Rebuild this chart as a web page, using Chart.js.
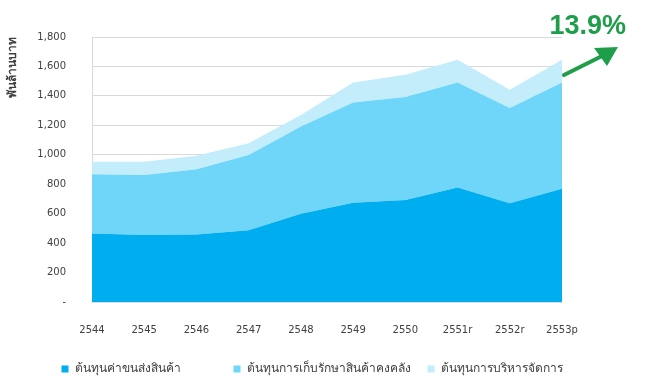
<!DOCTYPE html>
<html>
<head>
<meta charset="utf-8">
<script src="https://cdn.jsdelivr.net/npm/chart.js@4"></script>
<style>
html,body{margin:0;padding:0;background:#fff;}
#wrap{width:654px;height:391px;position:relative;}
</style>
</head>
<body>
<div id="wrap"><canvas id="c"></canvas></div>
<script>
const categories = ['2544','2545','2546','2547','2548','2549','2550','2551r','2552r','2553p'];
const seriesNames = ['ต้นทุนค่าขนส่งสินค้า','ต้นทุนการเก็บรักษาสินค้าคงคลัง','ต้นทุนการบริหารจัดการ'];
const transportCost = [465,455,458,488,600,675,692,778,670,770];
const inventoryCost = [402,408,443,511,592,680,700,713,647,721];
const adminCost = [86,90,93,79,79,136,152,155,124,155];
const yTicks = [0,200,400,600,800,1000,1200,1400,1600,1800];
const yTitle = 'พันล้านบาท';
const growthLabel = '13.9%';

const fontFam = "'DejaVu Sans', 'Liberation Sans', 'Noto Sans', sans-serif";
const legendGap = [4, 1, 3];

const annot = {
  id: 'annot',
  afterDraw(chart) {
    const ctx = chart.ctx;
    ctx.save();
    ctx.fillStyle = '#1E9E4A';
    ctx.font = "bold 27px 'Liberation Sans', Arial, sans-serif";
    ctx.textAlign = 'right';
    ctx.textBaseline = 'alphabetic';
    ctx.fillText(growthLabel, 626, 34);
    ctx.strokeStyle = '#1E9E4A';
    ctx.lineWidth = 4;
    ctx.lineCap = 'round';
    ctx.beginPath();
    ctx.moveTo(564, 75);
    ctx.lineTo(604, 55);
    ctx.stroke();
    ctx.beginPath();
    ctx.moveTo(618, 47);
    ctx.lineTo(594, 48);
    ctx.lineTo(607, 66);
    ctx.closePath();
    ctx.fill();
    ctx.restore();
  }
};

new Chart(document.getElementById('c'), {
  type: 'line',
  data: {
    labels: categories,
    datasets: [
      {label: seriesNames[0], data: transportCost, backgroundColor: '#00AEEF', borderWidth: 0, fill: 'origin', pointRadius: 0, tension: 0},
      {label: seriesNames[1], data: inventoryCost, backgroundColor: '#6FD6FA', borderWidth: 0, fill: '-1', pointRadius: 0, tension: 0},
      {label: seriesNames[2], data: adminCost, backgroundColor: '#C4EDFB', borderWidth: 0, fill: '-1', pointRadius: 0, tension: 0}
    ]
  },
  options: {
    responsive: true,
    maintainAspectRatio: false,
    animation: false,
    layout: {padding: {left: 6, right: 0, top: 37, bottom: 6}},
    plugins: {
      legend: {
        position: 'bottom',
        labels: {
          boxWidth: 7, boxHeight: 7, padding: 5,
          color: '#404040',
          font: {family: fontFam, size: 12},
          generateLabels(chart) {
            const items = Chart.defaults.plugins.legend.labels.generateLabels(chart);
            items.forEach((it, i) => { it.text = it.text + '\u2003'.repeat(legendGap[i] || 0); });
            return items;
          }
        }
      },
      tooltip: {enabled: false}
    },
    scales: {
      x: {
        offset: false,
        grid: {display: false, drawTicks: false},
        border: {display: false},
        ticks: {color: '#404040', font: {family: fontFam, size: 10}, padding: 22, maxRotation: 0, autoSkip: false}
      },
      y: {
        stacked: true,
        min: 0, max: 1800,
        afterBuildTicks(axis) { axis.ticks = yTicks.map(v => ({value: v})); },
        afterFit(axis) { axis.width = 86; },
        grid: {color: '#D9D9D9', drawTicks: false},
        border: {display: true, color: '#D9D9D9'},
        ticks: {
          color: '#404040', font: {family: fontFam, size: 10}, padding: 26,
          callback: v => v === 0 ? '-' : v.toLocaleString('en-US')
        },
        title: {display: true, text: yTitle, align: 'end', color: '#404040', font: {family: fontFam, size: 12, weight: 'bold'}, padding: 0}
      },
      yRight: {
        position: 'right',
        min: 0, max: 1,
        afterFit(axis) { axis.width = 92; },
        grid: {display: false},
        border: {display: false},
        ticks: {display: false}
      }
    }
  },
  plugins: [annot]
});
</script>
</body>
</html>
